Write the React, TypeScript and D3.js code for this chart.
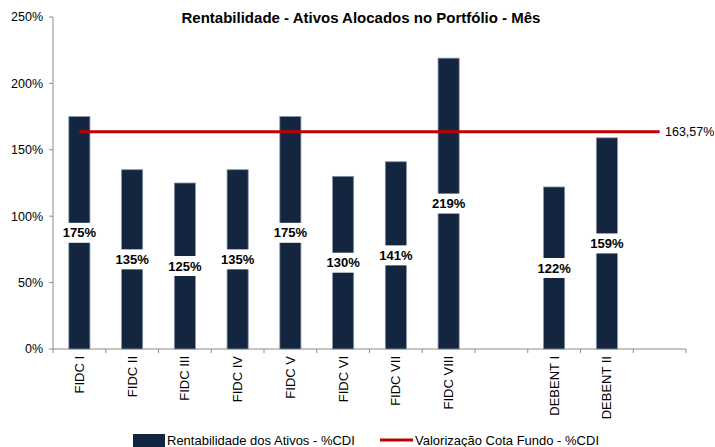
import React from "react";
import * as d3 from "d3";

const categories = ["FIDC I", "FIDC II", "FIDC III", "FIDC IV", "FIDC V", "FIDC VI", "FIDC VII", "FIDC VIII", "", "DEBENT I", "DEBENT II", " "];
const barValues: (number | null)[] = [175, 135, 125, 135, 175, 130, 141, 219, null, 122, 159, null];
const fundValue = 163.57;
const fundLabel = "163,57%";
const yTicks = [0, 50, 100, 150, 200, 250];
const title = "Rentabilidade - Ativos Alocados no Portfólio - Mês";
const legendBar = "Rentabilidade dos Ativos - %CDI";
const legendLine = "Valorização Cota Fundo - %CDI";

const W = 715;
const H = 447;
const FONT = "'Liberation Sans', Arial, sans-serif";

export default function App() {
  const left = 53;
  const right = 686;
  const top = 17;
  const bottom = 349;
  const x = d3.scaleBand<string>().domain(categories.map((c, i) => i + "")).range([left, right]).paddingInner(0).paddingOuter(0);
  const y = d3.scaleLinear().domain([0, 250]).range([bottom, top]);
  const bw = x.bandwidth();
  const barW = bw * 0.4;
  const axisColor = "#8c8c8c";

  const lineData = categories.map((_, i) => ({ i, v: fundValue }));
  const line = d3.line<{ i: number; v: number }>()
    .x((d) => (x(d.i + "") as number) + bw / 2)
    .y((d) => y(d.v));

  return (
    <svg width={W} height={H} style={{ position: "absolute", left: 0, top: 0 }} fontFamily={FONT}>
      <rect x={0} y={0} width={W} height={H} fill="#fff" />
      <text x={361} y={23} textAnchor="middle" fontSize={15} fontWeight="bold" fill="#000">{title}</text>

      {/* y axis */}
      <line x1={left} x2={left} y1={top} y2={bottom} stroke={axisColor} strokeWidth={1} />
      {yTicks.map((t) => (
        <g key={t}>
          <line x1={left - 4} x2={left} y1={y(t)} y2={y(t)} stroke={axisColor} />
          <text x={43} y={y(t)} dy="0.35em" textAnchor="end" fontSize={12.5} fill="#000">{t}%</text>
        </g>
      ))}

      {/* x axis */}
      <line x1={left} x2={right} y1={bottom} y2={bottom} stroke={axisColor} />
      {d3.range(categories.length + 1).map((i) => {
        const xx = left + i * bw;
        return <line key={i} x1={xx} x2={xx} y1={bottom} y2={bottom + 4} stroke={axisColor} />;
      })}
      {categories.map((c, i) => {
        const cx = (x(i + "") as number) + bw / 2;
        return (
          <text key={i} transform={`translate(${cx + 4.5},${356}) rotate(-90)`} textAnchor="end" fontSize={13} fill="#000">{c.trim()}</text>
        );
      })}

      {/* bars */}
      {barValues.map((v, i) =>
        v == null ? null : (
          <rect key={i} x={(x(i + "") as number) + bw / 2 - barW / 2} y={y(v)} width={barW} height={y(0) - y(v)} fill="#13253F" stroke="#8593a8" strokeWidth={0.8} />
        )
      )}

      {/* fund line */}
      <path d={line(lineData) || ""} stroke="#C00000" strokeWidth={3} fill="none" />
      <text x={665} y={y(fundValue)} dy="0.35em" fontSize={12.5} fill="#000">{fundLabel}</text>

      {/* bar labels */}
      {barValues.map((v, i) => {
        if (v == null) return null;
        const cx = (x(i + "") as number) + bw / 2;
        const cy = y(v / 2);
        return (
          <g key={i}>
            <rect x={cx - 17} y={cy - 10} width={34} height={20} fill="#fff" />
            <text x={cx} y={cy} dy="0.36em" textAnchor="middle" fontSize={13} fontWeight="bold" fill="#000">{v}%</text>
          </g>
        );
      })}

      {/* legend */}
      <rect x={133} y={434} width={32} height={14} fill="#13253F" />
      <text x={167} y={445} fontSize={13} fill="#000">{legendBar}</text>
      <line x1={380} x2={413} y1={440} y2={440} stroke="#C00000" strokeWidth={3} />
      <text x={415} y={445} fontSize={13} fill="#000">{legendLine}</text>
    </svg>
  );
}
